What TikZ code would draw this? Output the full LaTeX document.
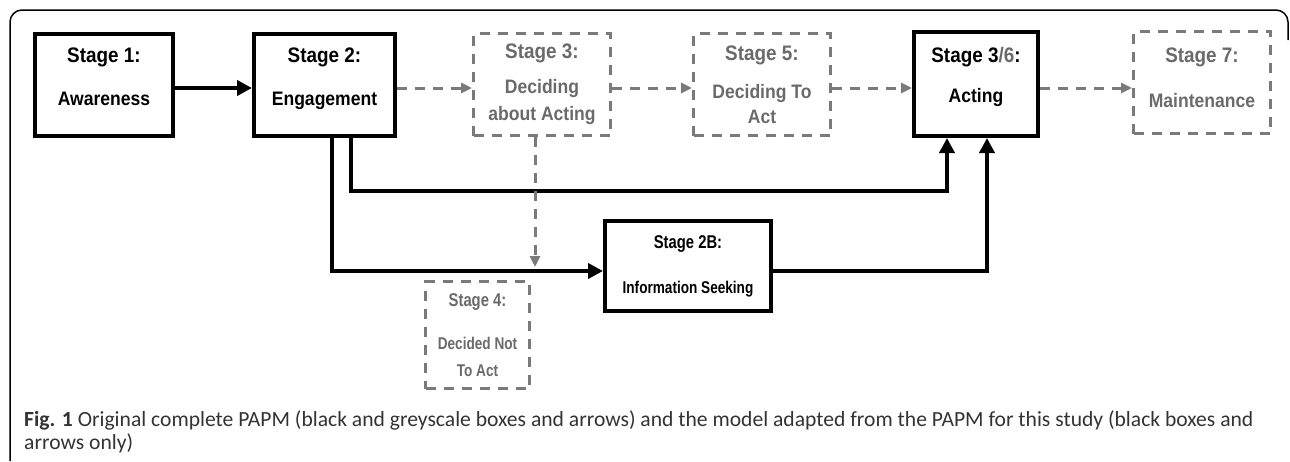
\documentclass[tikz,border=0pt]{standalone}
\usepackage{fontspec}
\setmainfont{Liberation Sans}
\newfontfamily\topfont[FakeStretch=0.9]{Liberation Sans}
\newfontfamily\lowfont[FakeStretch=0.8]{Liberation Sans}
\newfontfamily\captionfont{Carlito}
\usetikzlibrary{arrows.meta}

\definecolor{stagegray}{HTML}{7A7A7A}
\definecolor{stagetext}{HTML}{6A6A6A}
\definecolor{captiontext}{HTML}{333333}

% drop the text block upwards inside a box
\newcommand{\padbelow}[1]{\rule[-#1]{0pt}{0pt}}
% first line of a box
\newcommand{\stagetop}[1]{{\fontsize{21}{22}\selectfont #1}}
\newcommand{\stagelow}[1]{{\fontsize{18.5}{20}\selectfont #1}}

\tikzset{
  boxfont/.style={font=\topfont\bfseries\fontsize{19.5}{22}\selectfont, align=center, inner sep=0pt},
  lowboxfont/.style={font=\lowfont\bfseries\fontsize{17}{20}\selectfont, align=center, inner sep=0pt},
  blackbox/.style={draw, line width=4pt},
  graybox/.style={draw=stagegray, text=stagetext, line width=3pt,
    dash pattern=on 10pt off 8pt},
  blackarrow/.style={line width=4pt, -{Triangle[length=15pt,width=15pt]}},
  grayarrow/.style={draw=stagegray, line width=3pt, dash pattern=on 10pt off 8pt,
    -{Triangle[length=11pt,width=10pt]}},
}

\begin{document}
\begin{tikzpicture}[x=1pt, y=-1pt]
  \useasboundingbox (0,0) rectangle (1290,461);

  % Frame
  \draw[line width=1.5pt, rounded corners=12pt] (10,461) -- (10,10) -- (1288,10) -- (1288,40);

  % Boxes of the adapted model
  \node[blackbox, boxfont, minimum width=138pt, minimum height=102pt] (aware) at (104,85)
    {\stagetop{Stage 1:}\\[21pt]Awareness\padbelow{17pt}};
  \node[blackbox, boxfont, minimum width=141pt, minimum height=102pt] (engage) at (324.5,85)
    {\stagetop{Stage 2:}\\[21pt]Engagement\padbelow{17pt}};
  \node[blackbox, boxfont, minimum width=124pt, minimum height=104pt] (acting) at (976,84)
    {\stagetop{Stage 3{\color{stagetext}/6}:}\\[18pt]Acting\padbelow{18pt}};
  \node[blackbox, lowboxfont, minimum width=166pt, minimum height=90pt] (seeking) at (688,266)
    {\stagelow{Stage 2B:}\\[25pt]Information Seeking};

  % Boxes of the original PAPM only
  \node[graybox, boxfont, minimum width=137pt, minimum height=102pt] (deciding) at (542,84.5)
    {\stagetop{Stage 3:}\\[13pt]Deciding\\[5pt]about Acting};
  \node[graybox, boxfont, minimum width=137pt, minimum height=102pt] (decided) at (762,84.5)
    {\stagetop{Stage 5:}\\[16pt]Deciding To\\[3pt]Act};
  \node[graybox, boxfont, minimum width=137pt, minimum height=102pt] (maintain) at (1202,82.5)
    {\stagetop{Stage 7:}\\[23pt]Maintenance\padbelow{10pt}};
  \node[graybox, lowboxfont, minimum width=104pt, minimum height=107pt] (notact) at (477.5,335)
    {\stagelow{Stage 4:}\\[23pt]Decided Not\\[7pt]To Act};

  % Arrows
  \draw[blackarrow] (aware.east |- 0,88) -- (engage.west |- 0,88);
  \draw[grayarrow] (engage.east |- 0,88) -- (deciding.west |- 0,88);
  \draw[grayarrow] (deciding.east |- 0,88) -- (decided.west |- 0,88);
  \draw[grayarrow] (decided.east |- 0,88) -- (acting.west |- 0,88);
  \draw[grayarrow] (acting.east |- 0,88) -- (maintain.west |- 0,88);

  \draw[blackarrow, line join=miter] (engage.south -| 332,0) |- (seeking.west |- 0,271);
  \draw[blackarrow, line join=miter] (engage.south -| 351,0) -- (351,191) -| (acting.south -| 947,0);
  \draw[blackarrow, line join=miter] (seeking.east |- 0,271) -| (acting.south -| 987,0);

  \coordinate (tonotact) at (535,267);
  \draw[grayarrow] (deciding.south -| 535,0) -- (tonotact);

  % Caption
  \node[font=\captionfont\fontsize{21.6}{23}\selectfont, text=captiontext, anchor=north west,
    align=left, inner sep=0pt] (caption) at (24,410)
    {\textbf{Fig. 1} Original complete PAPM (black and greyscale boxes and arrows) and the model adapted from the PAPM for this study (black boxes and\\arrows only)};
\end{tikzpicture}
\end{document}
